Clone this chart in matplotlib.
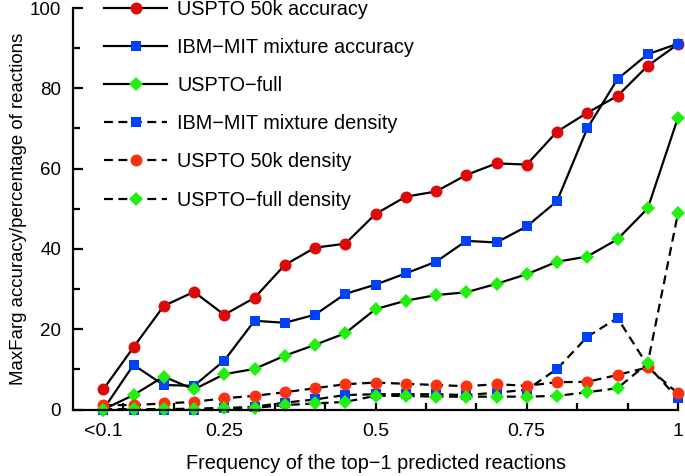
import matplotlib
matplotlib.use("Agg")
import matplotlib.pyplot as plt
import numpy as np

plt.rcParams['font.family'] = ['Liberation Sans', 'DejaVu Sans']

x = [0.05, 0.10, 0.15, 0.20, 0.25, 0.30, 0.35, 0.40, 0.45, 0.50,
     0.55, 0.60, 0.65, 0.70, 0.75, 0.80, 0.85, 0.90, 0.95, 1.00]

uspto50k_acc = [5.0, 15.5, 25.8, 29.3, 23.6, 27.8, 36.0, 40.3, 41.3, 48.7,
                53.0, 54.3, 58.4, 61.3, 61.0, 69.2, 73.9, 78.1, 85.6, 91.0]
ibm_mit_acc = [0.0, 11.1, 6.1, 5.9, 12.2, 22.1, 21.6, 23.6, 28.8, 31.1,
               33.9, 36.8, 42.0, 41.6, 45.6, 51.9, 70.0, 82.3, 88.5, 91.1]
uspto_full_acc = [0.0, 3.6, 8.2, 5.0, 8.8, 10.1, 13.4, 16.1, 19.0, 25.0,
                  27.1, 28.5, 29.2, 31.3, 33.7, 36.8, 38.1, 42.4, 50.1, 72.7]
ibm_mit_dens = [0.0, 0.0, 0.0, 0.0, 0.3, 0.7, 1.7, 2.5, 3.6, 3.8,
                3.8, 3.8, 3.6, 4.2, 4.9, 10.1, 18.1, 22.8, 10.9, 2.8]
uspto50k_dens = [1.1, 1.1, 1.5, 1.9, 2.8, 3.4, 4.3, 5.3, 6.3, 6.7,
                 6.4, 6.1, 5.8, 6.3, 5.9, 6.8, 6.9, 8.6, 10.5, 4.0]
uspto_full_dens = [0.0, 0.1, 0.1, 0.2, 0.4, 0.4, 1.1, 1.5, 1.9, 3.4,
                   3.4, 3.2, 3.2, 3.2, 3.2, 3.4, 4.3, 5.3, 11.5, 48.9]

labels = ["USPTO 50k accuracy", "IBM\u2212MIT mixture accuracy", "USPTO\u2212full",
          "IBM\u2212MIT mixture density", "USPTO 50k density", "USPTO\u2212full density"]

x_tick_labels = ["0.25", "0.5", "0.75", "1"]
first_label = "<0.1"

red_dark = "#dc0a0a"
red_light = "#ff3010"
blue = "#0040ff"
green = "#22ee10"

fig = plt.figure(figsize=(6.85, 4.76), dpi=100)
ax = fig.add_axes([73/685, 1 - 409.5/476, (678 - 73)/685, (409.5 - 8)/476])

lw = 1.6
dash = (4, 2.5)
series = [
    (uspto50k_acc, 'o', red_dark, '-', 8.6),
    (ibm_mit_acc, 's', blue, '-', 7.2),
    (uspto_full_acc, 'D', green, '-', 7.0),
    (ibm_mit_dens, 's', blue, '--', 7.2),
    (uspto50k_dens, 'o', red_light, '--', 8.6),
    (uspto_full_dens, 'D', green, '--', 7.0),
]
for (vals, m, c, ls, ms), lab in zip(series, labels):
    line, = ax.plot(x, vals, color='black', lw=lw, linestyle=ls, marker=m,
                    markersize=ms, markerfacecolor=c, markeredgecolor=c,
                    markeredgewidth=0, label=lab, clip_on=False)
    if ls == '--':
        line.set_dashes(dash)

ax.set_xlim(0, 1)
ax.set_ylim(0, 100)
for s in ['top', 'right']:
    ax.spines[s].set_visible(False)
for s in ['left', 'bottom']:
    ax.spines[s].set_linewidth(1.6)

major_x = [k / 12 for k in range(1, 13)]
lab_map = {3: x_tick_labels[0], 6: x_tick_labels[1], 9: x_tick_labels[2], 12: x_tick_labels[3]}
ax.set_xticks(major_x)
ax.set_xticklabels([lab_map.get(k, "") for k in range(1, 13)])
ax.set_xticks([0.05], minor=True)
ax.set_xticklabels([first_label], minor=True)
ax.tick_params(axis='x', which='major', direction='in', length=5, width=1.6,
               pad=9.5, labelsize=14)
ax.tick_params(axis='x', which='minor', direction='in', length=0,
               pad=9.5, labelsize=14)

ax.set_yticks(np.arange(0, 101, 20))
ax.set_yticks(np.arange(10, 100, 20), minor=True)
ax.tick_params(axis='y', which='major', direction='in', length=7, width=1.6,
               pad=8.5, labelsize=13.5)
ax.tick_params(axis='y', which='minor', direction='in', length=5, width=1.6)

ax.set_xlabel("Frequency of the top\u22121 predicted reactions", fontsize=14.3, labelpad=10)
ax.set_ylabel("MaxFarg accuracy/percentage of reactions", fontsize=13.4, labelpad=2)

leg = ax.legend(loc='upper left', bbox_to_anchor=(0.022, 1.065), frameon=False,
                fontsize=14.3, handlelength=3.17, handletextpad=0.5,
                labelspacing=0.965, numpoints=1)

fig.savefig("out.png", dpi=100)
